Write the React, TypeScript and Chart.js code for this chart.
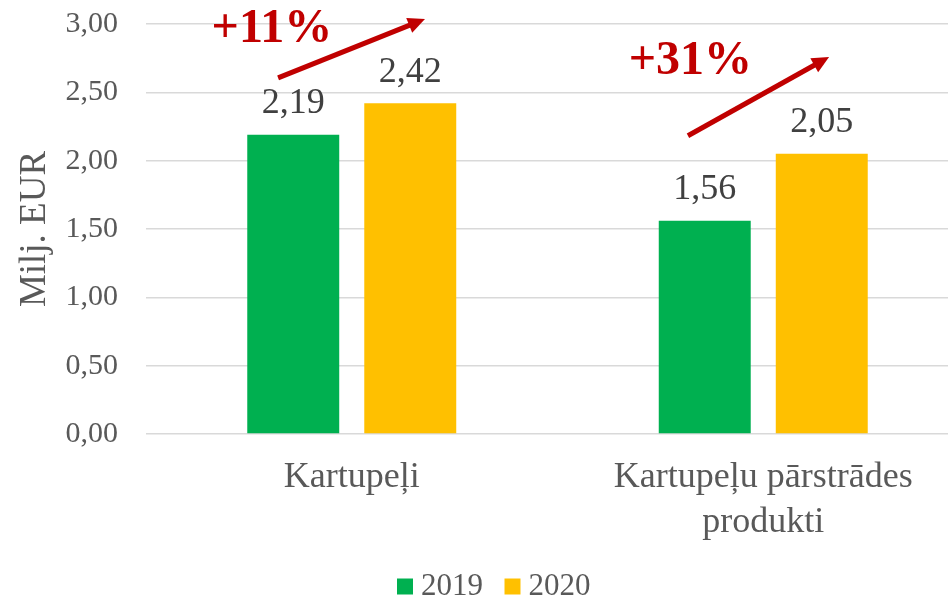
import React, { useEffect, useRef } from "react";
import { Chart, registerables } from "chart.js";

Chart.register(...registerables);

const categories: (string | string[])[] = ["Kartupeļi", ["Kartupeļu pārstrādes", "produkti"]];
const seriesNames = ["2019", "2020"];
const values2019 = [2.19, 1.56];
const values2020 = [2.42, 2.05];
const seriesColors = ["#00B050", "#FFC000"];
const yMin = 0;
const yMax = 3;
const yStep = 0.5;
const axisTitle = "Milj. EUR";
const changeLabels = ["+11%", "+31%"];
const changeLabelAt = [
  [-0.194, 2.956],
  [0.823, 2.723],
];
const arrowFrom = [
  [-0.179, 2.606],
  [0.817, 2.182],
];
const arrowTo = [
  [0.178, 3.036],
  [1.16, 2.759],
];

const FONT = '"Liberation Serif", "Times New Roman", serif';
const fmt = (v: number) => v.toFixed(2).replace(".", ",");

const valueLabelPlugin = {
  id: "valueLabels",
  afterDatasetsDraw(chart: any) {
    const ctx = chart.ctx;
    ctx.save();
    ctx.font = `36px ${FONT}`;
    ctx.fillStyle = "#404040";
    ctx.textAlign = "center";
    ctx.textBaseline = "middle";
    chart.data.datasets.forEach((ds: any, i: number) => {
      const meta = chart.getDatasetMeta(i);
      meta.data.forEach((bar: any, j: number) => {
        ctx.fillText(fmt(ds.data[j]), bar.x, bar.y - 31);
      });
    });
    ctx.restore();
  },
};

const changePlugin = {
  id: "changeArrows",
  afterDatasetsDraw(chart: any) {
    const ctx = chart.ctx;
    const xs = chart.scales.x;
    const ys = chart.scales.y;
    ctx.save();
    ctx.strokeStyle = "#C00000";
    ctx.fillStyle = "#C00000";
    ctx.lineWidth = 5;
    for (let i = 0; i < arrowFrom.length; i++) {
      const x1 = xs.getPixelForValue(arrowFrom[i][0]);
      const y1 = ys.getPixelForValue(arrowFrom[i][1]);
      const x2 = xs.getPixelForValue(arrowTo[i][0]);
      const y2 = ys.getPixelForValue(arrowTo[i][1]);
      const dx = x2 - x1;
      const dy = y2 - y1;
      const len = Math.hypot(dx, dy);
      const ux = dx / len;
      const uy = dy / len;
      const headLen = 17;
      const headHalf = 8;
      const bx = x2 - ux * headLen;
      const by = y2 - uy * headLen;
      ctx.beginPath();
      ctx.moveTo(x1, y1);
      ctx.lineTo(bx + ux * 2, by + uy * 2);
      ctx.stroke();
      ctx.beginPath();
      ctx.moveTo(x2, y2);
      ctx.lineTo(bx - uy * headHalf, by + ux * headHalf);
      ctx.lineTo(bx + uy * headHalf, by - ux * headHalf);
      ctx.closePath();
      ctx.fill();
    }
    ctx.font = `bold 48px ${FONT}`;
    ctx.textAlign = "center";
    ctx.textBaseline = "middle";
    for (let i = 0; i < changeLabels.length; i++) {
      const x = xs.getPixelForValue(changeLabelAt[i][0]);
      const y = ys.getPixelForValue(changeLabelAt[i][1]);
      ctx.fillText(changeLabels[i], x, y);
    }
    ctx.restore();
  },
};

export default function App() {
  const ref = useRef<HTMLCanvasElement | null>(null);
  useEffect(() => {
    if (!ref.current) return;
    const chart = new Chart(ref.current, {
      type: "bar",
      data: {
        labels: categories,
        datasets: [
          {
            label: seriesNames[0],
            data: values2019,
            backgroundColor: seriesColors[0],
            borderWidth: 0,
          },
          {
            label: seriesNames[1],
            data: values2020,
            backgroundColor: seriesColors[1],
            borderWidth: 0,
          },
        ],
      },
      options: {
        responsive: false,
        animation: false,
        layout: { padding: { left: 26, right: 21, top: 24, bottom: -15 } },
        datasets: {
          bar: { categoryPercentage: 0.5687, barPercentage: 0.786 },
        },
        plugins: {
          legend: {
            position: "bottom",
            labels: {
              usePointStyle: true,
              pointStyle: "rect",
              boxWidth: 1,
              boxHeight: 16,
              padding: 29,
              color: "#595959",
              font: { family: FONT, size: 31 },
            },
          },
          tooltip: { enabled: false },
        },
        scales: {
          x: {
            grid: { display: false, drawTicks: false },
            border: { display: false },
            ticks: {
              color: "#595959",
              font: { family: FONT, size: 36, lineHeight: 1.25 },
              padding: 21.5,
              maxRotation: 0,
              autoSkip: false,
            },
            afterFit: (s: any) => {
              s.height = 108;
            },
          },
          y: {
            min: yMin,
            max: yMax,
            grid: { color: "#D9D9D9", lineWidth: 1.5, drawTicks: false },
            border: { display: false },
            ticks: {
              stepSize: yStep,
              color: "#595959",
              font: { family: FONT, size: 30 },
              padding: 28,
              callback: (v: any) => fmt(Number(v)),
            },
            title: {
              display: true,
              text: axisTitle,
              color: "#595959",
              font: { family: FONT, size: 37, lineHeight: 0.5 },
              padding: { top: 0, bottom: 0 },
            },
            afterFit: (s: any) => {
              s.width = 120;
              s.paddingTop = 0;
              s.paddingBottom = 0;
            },
          },
        },
      },
      plugins: [valueLabelPlugin, changePlugin],
    });
    return () => chart.destroy();
  }, []);
  return (
    <div
      style={{
        position: "fixed",
        left: 0,
        top: 0,
        width: 948,
        height: 597,
        overflow: "hidden",
        background: "#fff",
      }}
    >
      <canvas ref={ref} width={990} height={597} style={{ display: "block", width: 990, height: 597 }} />
    </div>
  );
}
